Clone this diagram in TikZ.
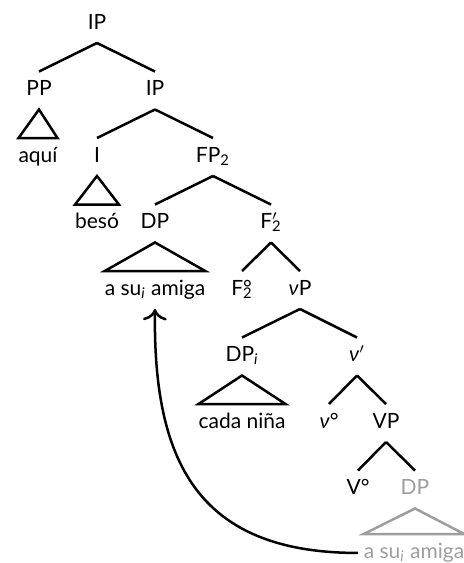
\documentclass[tikz,border=0pt]{standalone}
\usepackage{fontspec}
\setmainfont{Lato}
\usetikzlibrary{arrows.meta}

\colorlet{spurGrau}{black!38}

\tikzstyle{cat}=[anchor=base, inner sep=0pt, outer sep=5pt, text height=7pt, text depth=2pt]
\tikzstyle{leaf}=[anchor=base, inner xsep=0pt, inner ysep=5pt, outer sep=0pt, text height=7pt, text depth=2pt]
\tikzstyle{branch}=[line width=1.25pt]
\tikzstyle{spur}=[color=spurGrau]

\newcommand{\idx}{\textsubscript{\itshape i}}
\newcommand{\hochtief}[2]{\rlap{#1}\textsubscript{#2}}

\begin{document}
\begin{tikzpicture}[x=0.5pt, y=-0.5pt, font=\fontsize{10.5}{12}\selectfont, >={To[scale=1.3]}]
	\useasboundingbox (0,0) rectangle (464,563);

	% Kategorien
	\node(ip) at (97,29) [cat] {IP};
	\node(pp) at (39,95.5) [cat] {PP};
	\node(ipb) at (155,95.5) [cat] {IP};
	\node(i) at (97,162) [cat] {I};
	\node(fp) at (213,162) [cat] {FP\textsubscript{2}};
	\node(dp) at (155,228.5) [cat] {DP};
	\node(fbar) at (271,228.5) [cat] {F\hochtief{$^{\prime}$}{2}};
	\node(fnull) at (242,295) [cat] {F\hochtief{°}{2}};
	\node(vp) at (300,295) [cat] {\textit{ν}P};
	\node(dpi) at (242,361.5) [cat] {DP\idx};
	\node(vbar) at (357,361.5) [cat] {\textit{ν}$^{\prime}$};
	\node(vnull) at (329,428) [cat] {\textit{ν}°};
	\node(vpb) at (386,428) [cat] {VP};
	\node(vv) at (358,494.5) [cat] {V°};
	\node(dpspur) at (415,494.5) [cat, spur] {DP};

	% Blaetter unter den Dreiecken
	\node(aqui) at (38,162) [leaf] {aquí};
	\node(beso) at (97,228.5) [leaf] {besó};
	\node(amiga) at (155,295) [leaf] {a su\idx{} amiga};
	\node(cada) at (242,428) [leaf] {cada niña};
	\node(spurblatt) at (414,558) [leaf, spur] {a su\idx{} amiga};

	% Aeste
	\draw[branch] (ip.south) -- (pp.north);
	\draw[branch] (ip.south) -- (ipb.north);
	\draw[branch] (ipb.south) -- (i.north);
	\draw[branch] (ipb.south) -- (fp.north);
	\draw[branch] (fp.south) -- (dp.north);
	\draw[branch] (fp.south) -- (fbar.north);
	\draw[branch] (fbar.south) -- (fnull.north);
	\draw[branch] (fbar.south) -- (vp.north);
	\draw[branch] (vp.south) -- (dpi.north);
	\draw[branch] (vp.south) -- (vbar.north);
	\draw[branch] (vbar.south) -- (vnull.north);
	\draw[branch] (vbar.south) -- (vpb.north);
	\draw[branch] (vpb.south) -- (vv.north);
	\draw[branch] (vpb.south) -- (dpspur.north);

	% Dreiecke
	\draw[branch] (pp.south) -- (aqui.north west) -- (aqui.north east) -- cycle;
	\draw[branch] (i.south) -- (beso.north west) -- (beso.north east) -- cycle;
	\draw[branch] (dp.south) -- (amiga.north west) -- (amiga.north east) -- cycle;
	\draw[branch] (dpi.south) -- (cada.north west) -- (cada.north east) -- cycle;
	\draw[branch, spur] (dpspur.south) -- (spurblatt.north west) -- (spurblatt.north east) -- cycle;

	% Bewegung
	\draw[branch, ->, shorten <=3pt] (spurblatt.mid west) .. controls +(-168,0) and +(-2,150) .. (amiga.south);
\end{tikzpicture}
\end{document}
